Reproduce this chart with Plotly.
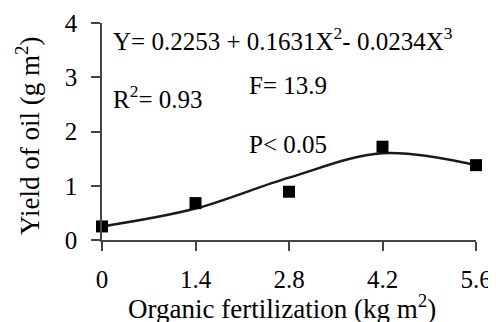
import plotly.graph_objects as go

x_obs = [0, 1.4, 2.8, 4.2, 5.6]
y_obs = [0.25, 0.68, 0.89, 1.72, 1.38]
x_fit = [0, 1.4, 2.8, 4.2, 5.6]
y_fit = [0.25, 0.58, 1.15, 1.6, 1.38]
x_ticks = [0, 1.4, 2.8, 4.2, 5.6]
x_ticklabels = ["0", "1.4", "2.8", "4.2", "5.6"]
y_ticks = [0, 1, 2, 3, 4]

FONT = "Liberation Serif"
OFF = 8  # page body margin of the browser
W, H = 496 - OFF, 322 - OFF
# target pixel positions in the 496x322 window
PL, PR, PT, PB = 102, 476, 23, 240
ML, MR, MT, MB = PL - OFF, 496 - PR, PT - OFF, 322 - PB
PW, PH = PR - PL, PB - PT


def px_to_paper(px, py):
    return (px - PL) / PW, (PB - py) / PH


fig = go.Figure()
fig.add_trace(go.Scatter(x=x_fit, y=y_fit, mode="lines",
                         line=dict(color="#1a1a1a", width=2.5, shape="spline", smoothing=1.0),
                         hoverinfo="skip", cliponaxis=False))
fig.add_trace(go.Scatter(x=x_obs, y=y_obs, mode="markers",
                         marker=dict(symbol="square", size=12, color="black"), cliponaxis=False))

axis_common = dict(showgrid=False, zeroline=False, showline=True, linecolor="#444", linewidth=1.5,
                   ticks="outside", ticklen=9, tickwidth=1.5, tickcolor="#444", automargin=False,
                   tickfont=dict(family=FONT, size=25, color="black"))
fig.update_xaxes(range=[0, 5.6], tickvals=x_ticks, ticktext=x_ticklabels, ticklabelstandoff=7, **axis_common)
fig.update_yaxes(range=[0, 4], tickvals=y_ticks, ticklabelstandoff=9, **axis_common)

ann_font = dict(family=FONT, size=25, color="black")
title_font = dict(family=FONT, size=27, color="black")
yx, yy = px_to_paper(9, 136)
xx, xy = px_to_paper(282, 326)
fig.update_layout(
    width=W, height=H, showlegend=False,
    margin=dict(l=ML, r=MR, t=MT, b=MB, autoexpand=False),
    plot_bgcolor="white", paper_bgcolor="white",
    annotations=[
        dict(x=0.14, y=3.7, xref="x", yref="y", xanchor="left", yanchor="middle", showarrow=False,
             text="Y= 0.2253 + 0.1631X<sup>2</sup>- 0.0234X<sup>3</sup>", font=ann_font),
        dict(x=0.14, y=2.63, xref="x", yref="y", xanchor="left", yanchor="middle", showarrow=False,
             text="R<sup>2</sup>= 0.93", font=ann_font),
        dict(x=2.17, y=2.85, xref="x", yref="y", xanchor="left", yanchor="middle", showarrow=False,
             text="F= 13.9", font=ann_font),
        dict(x=2.17, y=1.76, xref="x", yref="y", xanchor="left", yanchor="middle", showarrow=False,
             text="P< 0.05", font=ann_font),
        dict(x=yx, y=yy, xref="paper", yref="paper", showarrow=False, textangle=-90,
             text="Yield of oil (g m<sup>2</sup>)", font=title_font),
        dict(x=xx, y=xy, xref="paper", yref="paper", showarrow=False,
             text="Organic fertilization (kg m<sup>2</sup>)", font=title_font),
    ],
)

fig.write_html("out.html")
